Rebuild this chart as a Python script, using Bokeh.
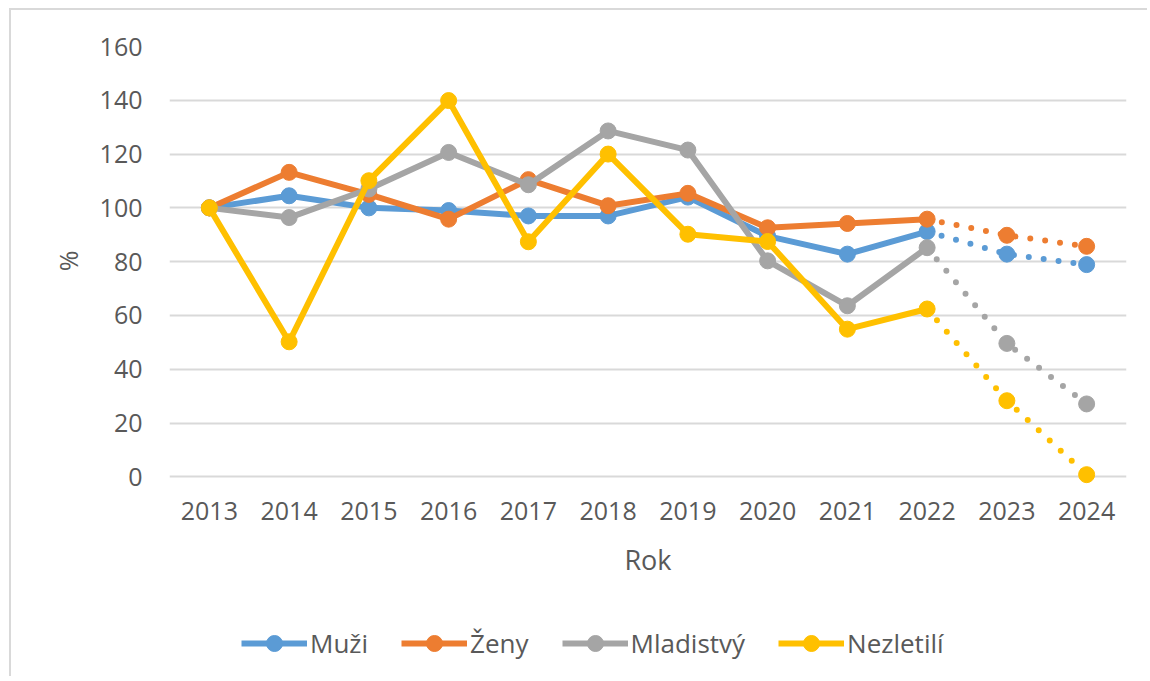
from bokeh.plotting import figure
from bokeh.models import FactorRange, FixedTicker, Legend, LegendItem, ColumnDataSource, Title
from bokeh.embed import file_html
from bokeh.resources import INLINE

years = ["2013", "2014", "2015", "2016", "2017", "2018", "2019", "2020", "2021", "2022", "2023", "2024"]
muzi = [100, 104.5, 100, 99, 97, 97, 104, 89.5, 82.8, 91.2, 82.8, 78.9]
zeny = [100, 113.2, 105, 95.8, 110.5, 100.8, 105.4, 92.6, 94.2, 95.8, 89.8, 85.7]
mladistvy = [100, 96.4, 107, 120.6, 108.6, 128.6, 121.5, 80.3, 63.6, 85.2, 49.6, 27.1]
nezletili = [100, 50.2, 110.1, 139.9, 87.4, 120.0, 90.2, 87.5, 54.9, 62.4, 28.3, 0.8]

names = ["Muži", "Ženy", "Mladistvý", "Nezletilí"]
series = [muzi, zeny, mladistvy, nezletili]
colors = ["#5B9BD5", "#ED7D31", "#A5A5A5", "#FFC000"]
y_ticks = [0, 20, 40, 60, 80, 100, 120, 140, 160]
n_actual = 10  # 2013-2022 measured, 2023-2024 forecast

FONT = "Open Sans"
TXT = "#595959"

# frame reaches down to the legend row; the data area is 0..160,
# the extra room below 0 holds the x axis (fixed at 0), its title and the legend
p = figure(
    width=1138, height=668,
    x_range=FactorRange(*years, range_padding=0),
    y_range=(-73.5, 160),
    output_backend="svg", toolbar_location=None,
    min_border_left=158, min_border_right=23, min_border_top=36, min_border_bottom=4,
    styles={"border-left": "2px solid #d9d9d9", "border-top": "2px solid #d9d9d9",
            "margin-left": "9px", "margin-top": "8px"},
)
p.outline_line_color = None
p.background_fill_color = "white"
p.border_fill_color = "white"

p.xgrid.grid_line_color = None
p.ygrid.grid_line_color = "#d9d9d9"
p.ygrid.grid_line_width = 2
p.yaxis.ticker = FixedTicker(ticks=y_ticks)

for ax in (p.xaxis, p.yaxis):
    ax.axis_line_color = None
    ax.major_tick_line_color = None
    ax.minor_tick_line_color = None
    ax.major_tick_out = 0
    ax.major_label_text_font = FONT
    ax.major_label_text_font_size = "25px"
    ax.major_label_text_color = TXT
    ax.axis_label_text_font = FONT
    ax.axis_label_text_font_size = "27px"
    ax.axis_label_text_color = TXT
    ax.axis_label_text_font_style = "normal"

p.yaxis.major_label_standoff = 27
p.xaxis.fixed_location = 0
p.xaxis.axis_label = "Rok"
p.xaxis.major_label_standoff = 25
p.xaxis.axis_label_standoff = 18

ytitle = Title(text="%", align="right", offset=204, standoff=24,
               text_font=FONT, text_font_size="25px", text_font_style="normal",
               text_color=TXT)
p.add_layout(ytitle, "left")

items = []
for name, vals, col in zip(names, series, colors):
    src_a = ColumnDataSource(dict(x=years[:n_actual], y=vals[:n_actual]))
    src_f = ColumnDataSource(dict(x=years[n_actual - 1:], y=vals[n_actual - 1:]))
    src_all = ColumnDataSource(dict(x=years, y=vals))
    ln = p.line("x", "y", source=src_a, line_color=col, line_width=6, line_join="round")
    p.line("x", "y", source=src_f, line_color=col, line_width=6, line_dash="0 15", line_cap="round")
    sc = p.scatter("x", "y", source=src_all, size=16, fill_color=col, line_color=col)
    items.append(LegendItem(label=name, renderers=[ln, sc]))

legend = Legend(
    items=items, orientation="horizontal", location=(72, 11),
    glyph_width=66, glyph_height=40, label_standoff=3, spacing=33,
    label_text_font=FONT, label_text_font_size="26px", label_text_color=TXT,
    border_line_color=None, background_fill_alpha=0, padding=0, margin=0,
)
p.add_layout(legend, "center")

open("out.html", "w").write(file_html(p, INLINE))
